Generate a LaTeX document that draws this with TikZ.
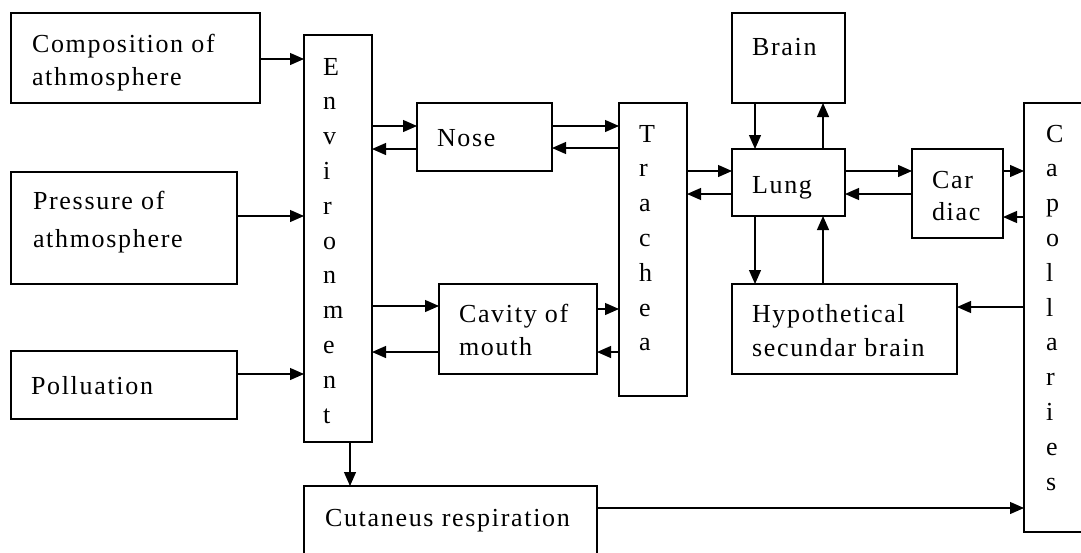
\documentclass[tikz,border=0pt]{standalone}
\usepackage{fontspec}
\setmainfont{Liberation Serif}[LetterSpace=6.5]
\usetikzlibrary{arrows.meta}
\makeatletter
\newcommand\vword[1]{\vtop{\baselineskip=34.8pt\@tfor\x:=#1\do{\hbox{\x}}}}
\makeatother
\newcommand\twol[3]{\vtop{\baselineskip=#1pt\hbox{#2}\hbox{#3}}}
\tikzset{
  box/.style={draw, line width=1.2pt, inner sep=0pt, outer sep=0pt, anchor=north west},
  txt/.style={anchor=base west, inner sep=0pt, outer sep=0pt, font=\fontsize{26}{34}\selectfont},
  arr/.style={line width=1.2pt, -{Triangle[length=14pt,width=12pt]}}
}
\begin{document}
\begin{tikzpicture}[x=1pt,y=-1pt]
\useasboundingbox (0,0) rectangle (1081,552);
\clip (0,0) rectangle (1081,552);
% boxes
\node[box, minimum width=249pt, minimum height=90pt]  (comp)  at (11,13)   {};
\node[box, minimum width=226pt, minimum height=112pt] (press) at (11,172)  {};
\node[box, minimum width=226pt, minimum height=68pt]  (poll)  at (11,351)  {};
\node[box, minimum width=68pt,  minimum height=407pt] (env)   at (304,35)  {};
\node[box, minimum width=135pt, minimum height=68pt]  (nose)  at (417,103) {};
\node[box, minimum width=68pt,  minimum height=293pt] (trach) at (619,103) {};
\node[box, minimum width=158pt, minimum height=90pt]  (cav)   at (439,284) {};
\node[box, minimum width=293pt, minimum height=90pt]  (cut)   at (304,486) {};
\node[box, minimum width=113pt, minimum height=90pt]  (brain) at (732,13)  {};
\node[box, minimum width=113pt, minimum height=67pt]  (lung)  at (732,149) {};
\node[box, minimum width=225pt, minimum height=90pt]  (hyp)   at (732,284) {};
\node[box, minimum width=91pt,  minimum height=89pt]  (card)  at (912,149) {};
\node[box, minimum width=80pt,  minimum height=429pt] (cap)   at (1024,103) {};
% texts
\node[txt] (compT)  at (32,52)   {\twol{33}{Composition of}{athmosphere}};
\node[txt] (pressT) at (33,209)  {\twol{38}{Pressure of}{athmosphere}};
\node[txt] (pollT)  at (31,394)  {Polluation};
\node[txt] (envT)   at (323,75)  {\vword{Environment}};
\node[txt] (noseT)  at (437,146) {Nose};
\node[txt] (trachT) at (639,142) {\vword{Trachea}};
\node[txt] (cavT)   at (459,322) {\twol{33}{Cavity of}{mouth}};
\node[txt] (cutT)   at (325,526) {Cutaneus respiration};
\node[txt] (brainT) at (752,55)  {Brain};
\node[txt] (lungT)  at (752,193) {Lung};
\node[txt] (hypT)   at (752,322) {\twol{34}{Hypothetical}{secundar brain}};
\node[txt] (cardT)  at (932,188) {\twol{32}{Car}{diac}};
\node[txt] (capT)   at (1046,142) {\vword{Capollaries}};
% connectors
\draw[arr] (comp.east |- 0,59)   -- (env.west |- 0,59);
\draw[arr] (press.east |- 0,216) -- (env.west |- 0,216);
\draw[arr] (poll.east |- 0,374)  -- (env.west |- 0,374);
\draw[arr] (env.east |- 0,126)   -- (nose.west |- 0,126);
\draw[arr] (nose.west |- 0,149)  -- (env.east |- 0,149);
\draw[arr] (nose.east |- 0,126)  -- (trach.west |- 0,126);
\draw[arr] (trach.west |- 0,148) -- (nose.east |- 0,148);
\draw[arr] (env.east |- 0,306)   -- (cav.west |- 0,306);
\draw[arr] (cav.west |- 0,352)   -- (env.east |- 0,352);
\draw[arr] (cav.east |- 0,309)   -- (trach.west |- 0,309);
\draw[arr] (trach.west |- 0,352) -- (cav.east |- 0,352);
\draw[arr] (trach.east |- 0,171) -- (lung.west |- 0,171);
\draw[arr] (lung.west |- 0,194)  -- (trach.east |- 0,194);
\draw[arr] (brain.south -| 755,0) -- (lung.north -| 755,0);
\draw[arr] (lung.north -| 823,0) -- (brain.south -| 823,0);
\draw[arr] (lung.east |- 0,171)  -- (card.west |- 0,171);
\draw[arr] (card.west |- 0,194)  -- (lung.east |- 0,194);
\draw[arr] (card.east |- 0,171)  -- (cap.west |- 0,171);
\draw[arr] (cap.west |- 0,217)   -- (card.east |- 0,217);
\draw[arr] (lung.south -| 755,0) -- (hyp.north -| 755,0);
\draw[arr] (hyp.north -| 823,0)  -- (lung.south -| 823,0);
\draw[arr] (cap.west |- 0,307)   -- (hyp.east |- 0,307);
\draw[arr] (env.south -| 350,0)  -- (cut.north -| 350,0);
\draw[arr] (cut.east |- 0,508)   -- (cap.west |- 0,508);
\end{tikzpicture}
\end{document}
